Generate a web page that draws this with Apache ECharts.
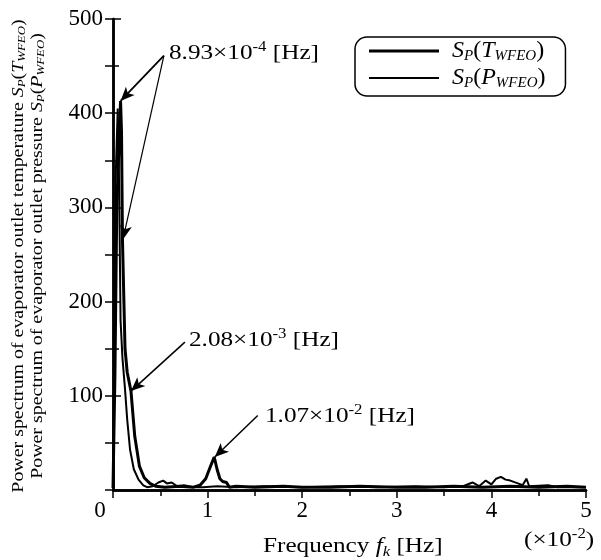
<!DOCTYPE html>
<html><head><meta charset="utf-8">
<script src="https://cdn.jsdelivr.net/npm/echarts/dist/echarts.min.js"></script>
<style>html,body{margin:0;padding:0;background:#fff}#c{width:601px;height:560px}</style>
</head><body><div id="c"></div>
<script>
// Frequency (x10^-2 Hz) and power spectrum values
const tX = [0, 0.02, 0.04, 0.08, 0.09, 0.1, 0.127, 0.15, 0.19, 0.23, 0.28, 0.33, 0.39, 0.45, 0.55, 0.7, 0.85, 0.92, 0.98, 1.03, 1.07, 1.1, 1.13, 1.16, 1.2, 1.23, 1.3, 1.5, 1.8, 2.0, 2.3, 2.6, 3.0, 3.3, 3.6, 3.9, 4.2, 4.5, 4.8, 5.0];
const tY = [2, 120, 300, 413, 380, 266, 150, 125, 105, 57, 25, 13, 7, 4, 3, 4, 3, 5, 12, 25, 35, 22, 12, 9, 8, 3, 4, 3, 4, 3, 3, 4, 3, 3, 4, 3, 4, 3, 4, 3];
const pX = [0, 0.01, 0.025, 0.05, 0.065, 0.08, 0.1, 0.127, 0.15, 0.18, 0.22, 0.27, 0.32, 0.36, 0.42, 0.48, 0.53, 0.57, 0.62, 0.68, 0.75, 0.85, 0.95, 1.1, 1.3, 1.6, 2.0, 2.4, 2.8, 3.2, 3.5, 3.7, 3.8, 3.87, 3.94, 4.0, 4.05, 4.1, 4.15, 4.2, 4.28, 4.33, 4.37, 4.4, 4.6, 4.7, 5.0];
const pY = [2, 120, 320, 405, 320, 180, 140, 107, 75, 43, 22, 11, 5, 3, 4, 8, 10, 7, 8, 4, 5, 3, 3, 4, 3, 4, 3, 4, 3, 4, 3, 4, 8, 4, 10, 6, 12, 14, 11, 10, 7, 5, 12, 4, 5, 3, 3];
const xTicks = [0, 1, 2, 3, 4, 5];
const yTicks = [0, 100, 200, 300, 400, 500];
const seriesNames = ['SP(TWFEO)', 'SP(PWFEO)'];
// annotation arrows: [from, to] in data coords
const arrows = [
  [[0.538, 461], [0.08, 413], 1.8],
  [[0.538, 461], [0.105, 266], 1.2],
  [[0.76, 157], [0.19, 105], 1.5],
  [[1.53, 79], [1.076, 35], 1.5]
];

const FF = 'Liberation Serif';
const zip = (a, b) => a.map((v, i) => [v, b[i]]);
const chart = echarts.init(document.getElementById('c'));

const richBase = {
  n: {fontFamily: FF, fontSize: 21, color: '#000', lineHeight: 26},
  i: {fontFamily: FF, fontSize: 21, fontStyle: 'italic', color: '#000', lineHeight: 26},
  s: {fontFamily: FF, fontSize: 14, fontStyle: 'italic', color: '#000', lineHeight: 12, verticalAlign: 'bottom'},
  sup: {fontFamily: FF, fontSize: 14, color: '#000', lineHeight: 14, verticalAlign: 'top'}
};
const richLeg = {
  n: {fontFamily: FF, fontSize: 24, color: '#000', lineHeight: 26},
  i: {fontFamily: FF, fontSize: 24, fontStyle: 'italic', color: '#000', lineHeight: 26},
  s: {fontFamily: FF, fontSize: 15, fontStyle: 'italic', color: '#000', lineHeight: 12, verticalAlign: 'bottom'}
};
const richY = {
  n: {fontFamily: FF, fontSize: 17, color: '#000', lineHeight: 19},
  i: {fontFamily: FF, fontSize: 17, fontStyle: 'italic', color: '#000', lineHeight: 19},
  s: {fontFamily: FF, fontSize: 11, fontStyle: 'italic', color: '#000', lineHeight: 8, verticalAlign: 'bottom'}
};
function sup(a, e) { return '{n|' + a + '}{sup|' + e + '}{n| [Hz]}'; }
const SX = 1.2;

const axisCommon = {
  type: 'value', min: 0,
  splitLine: {show: false},
  axisLine: {lineStyle: {color: '#000', width: 2.5}},
};

chart.setOption({
  animation: false,
  grid: {left: 113, right: 15, top: 19, bottom: 70},
  xAxis: [
    Object.assign({}, axisCommon, {
      max: 5, interval: 1, position: 'bottom',
      axisTick: {inside: false, length: 8, lineStyle: {width: 1.5, color: '#000'}},
      minorTick: {show: true, splitNumber: 2, length: 4, lineStyle: {width: 1.5, color: '#000'}},
      axisLabel: {fontFamily: FF, fontSize: 23, color: '#000', margin: 9,
        formatter: v => v === 0 ? '{z|0}' : String(v),
        rich: {z: {fontFamily: FF, fontSize: 23, color: '#000', padding: [0, 26, 0, 0]}}}
    }),
    Object.assign({}, axisCommon, {
      max: 5, interval: 0.5, position: 'top',
      axisTick: {inside: true, length: 6, lineStyle: {width: 1.5, color: '#000'}},
      axisLabel: {show: false}
    })
  ],
  yAxis: [
    Object.assign({}, axisCommon, {
      max: 500, interval: 100, position: 'left',
      axisTick: {inside: true, length: 8, lineStyle: {width: 1.5, color: '#000'}},
      minorTick: {show: true, splitNumber: 2, length: 6, lineStyle: {width: 1.5, color: '#000'}},
      axisLabel: {fontFamily: FF, fontSize: 23, color: '#000', margin: 10,
        formatter: v => v === 0 ? '' : String(v)}
    }),
    Object.assign({}, axisCommon, {
      max: 500, interval: 50, position: 'right',
      axisTick: {inside: true, length: 8, lineStyle: {width: 1.5, color: '#000'}},
      axisLabel: {show: false}
    })
  ],
  legend: {
    orient: 'vertical', left: 355, top: 37,
    itemWidth: 70, itemHeight: 3, itemGap: 2,
    borderColor: '#000', borderWidth: 1.5, borderRadius: 12,
    padding: [2, 20, 5, 14],
    data: [
      {name: seriesNames[0], icon: 'path://M0,0L70,0L70,3L0,3Z'},
      {name: seriesNames[1], icon: 'path://M0,0L70,0L70,2L0,2Z'}
    ],
    formatter: name => name === seriesNames[0]
      ? '{i|S}{s|P}{n|(}{i|T}{s|WFEO}{n|)}'
      : '{i|S}{s|P}{n|(}{i|P}{s|WFEO}{n|)}',
    textStyle: {rich: richLeg, padding: [0, 0, 0, 8]}
  },
  series: [
    {
      name: seriesNames[0], type: 'line', data: zip(tX, tY), symbol: 'none',
      lineStyle: {color: '#000', width: 3}, itemStyle: {color: '#000'},
      markLine: {
        silent: true, symbol: ['none', 'arrow'], symbolSize: [9, 14],
        label: {show: false},
        data: arrows.map(a => [{coord: a[0], lineStyle: {width: a[2], color: '#000', type: 'solid'}}, {coord: a[1]}])
      }
    },
    {
      name: seriesNames[1], type: 'line', data: zip(pX, pY), symbol: 'none',
      lineStyle: {color: '#000', width: 2}, itemStyle: {color: '#000'}
    }
  ],
  graphic: [
    {type: 'text', x: 169, y: 53, scaleX: SX, style: {text: sup('8.93×10', '-4'), rich: richBase, verticalAlign: 'middle'}},
    {type: 'text', x: 189, y: 340, scaleX: SX, style: {text: sup('2.08×10', '-3'), rich: richBase, verticalAlign: 'middle'}},
    {type: 'text', x: 265, y: 416, scaleX: SX, style: {text: sup('1.07×10', '-2'), rich: richBase, verticalAlign: 'middle'}},
    {type: 'text', x: 263, y: 546, scaleX: SX, style: {text: '{n|Frequency }{i|f}{s|k}{n| [Hz]}', rich: richBase, verticalAlign: 'middle'}},
    {type: 'text', x: 524, y: 540, scaleX: SX, style: {text: '{n|(×10}{sup|-2}{n|)}', rich: richBase, verticalAlign: 'middle'}},
    {type: 'text', x: 28, y: 256, rotation: Math.PI / 2, scaleX: 1.17,
      style: {
        text: '{n|Power spectrum of evaporator outlet temperature }{i|S}{s|P}{n|(}{i|T}{s|WFEO}{n|)}\n{n|Power spectrum of evaporator outlet pressure }{i|S}{s|P}{n|(}{i|P}{s|WFEO}{n|)}',
        rich: richY, align: 'center', verticalAlign: 'middle'
      }}
  ]
});
</script>
</body></html>
